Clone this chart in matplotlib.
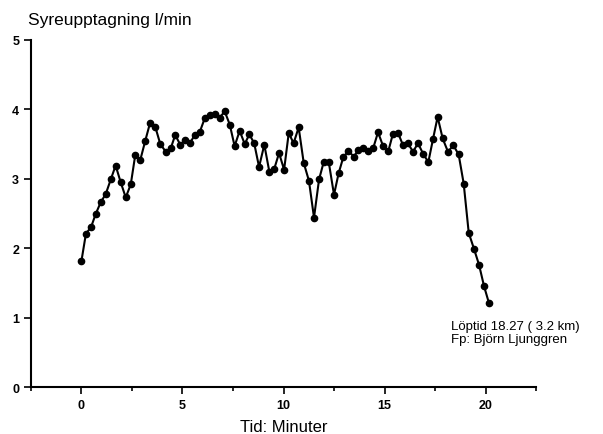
import matplotlib
matplotlib.use("Agg")
import matplotlib.pyplot as plt
from matplotlib.ticker import MultipleLocator

plt.rcParams['font.family'] = ['Liberation Sans', 'DejaVu Sans']

# Time in minutes
tid = [0.00, 0.22, 0.47, 0.70, 0.95, 1.20, 1.45, 1.69, 1.94, 2.19,
       2.44, 2.66, 2.91, 3.16, 3.39, 3.65, 3.90, 4.17, 4.42, 4.64,
       4.89, 5.14, 5.37, 5.60, 5.85, 6.10, 6.35, 6.59, 6.84, 7.09,
       7.34, 7.58, 7.83, 8.08, 8.31, 8.55, 8.79, 9.05, 9.30, 9.54,
       9.78, 10.03, 10.26, 10.50, 10.75, 11.00, 11.26, 11.51, 11.76, 11.99,
       12.24, 12.50, 12.73, 12.96, 13.21, 13.48, 13.70, 13.95, 14.20, 14.45,
       14.68, 14.93, 15.19, 15.42, 15.67, 15.92, 16.16, 16.41, 16.66, 16.91,
       17.17, 17.40, 17.63, 17.88, 18.14, 18.41, 18.67, 18.92, 19.17, 19.43,
       19.68, 19.93, 20.17]

# Oxygen uptake l/min
syre = [1.82, 2.21, 2.30, 2.49, 2.66, 2.78, 2.99, 3.19, 2.95, 2.73,
        2.92, 3.34, 3.27, 3.55, 3.80, 3.75, 3.50, 3.39, 3.44, 3.63,
        3.49, 3.56, 3.51, 3.63, 3.67, 3.87, 3.92, 3.93, 3.88, 3.97,
        3.78, 3.47, 3.69, 3.50, 3.64, 3.51, 3.17, 3.49, 3.10, 3.14,
        3.37, 3.13, 3.66, 3.51, 3.74, 3.23, 2.97, 2.44, 2.99, 3.24,
        3.24, 2.77, 3.08, 3.31, 3.40, 3.32, 3.41, 3.44, 3.40, 3.45,
        3.67, 3.47, 3.40, 3.65, 3.66, 3.48, 3.51, 3.39, 3.51, 3.36,
        3.24, 3.57, 3.89, 3.58, 3.39, 3.48, 3.35, 2.93, 2.22, 1.99,
        1.76, 1.45, 1.21]

xticks = [0, 5, 10, 15, 20]
yticks = [0, 1, 2, 3, 4, 5]

fig = plt.figure(figsize=(6.03, 4.35), dpi=100)
ax = fig.add_axes([0.0514, 0.108, 0.8375, 0.798])

ax.plot(tid, syre, color='black', linewidth=1.5, marker='o',
        markersize=4.5, markerfacecolor='black', markeredgecolor='black')

ax.set_xlim(-2.5, 22.5)
ax.set_ylim(0, 5)
ax.set_xticks(xticks)
ax.set_yticks(yticks)
ax.xaxis.set_minor_locator(MultipleLocator(2.5))

for s in ['top', 'right']:
    ax.spines[s].set_visible(False)
for s in ['left', 'bottom']:
    ax.spines[s].set_linewidth(1.5)

ax.tick_params(axis='both', which='major', direction='out', length=5,
               width=1.2, labelsize=9)
ax.tick_params(axis='x', which='minor', direction='out', length=3, width=1.2)
for lbl in ax.get_xticklabels() + ax.get_yticklabels():
    lbl.set_fontweight('bold')

ax.set_xlabel('Tid: Minuter', fontsize=12, labelpad=6)

fig.text(0.046, 0.953, 'Syreupptagning l/min', fontsize=12.5,
         ha='left', va='center')

fig.text(0.748, 0.233, 'Löptid 18.27 ( 3.2 km)\nFp: Björn Ljunggren',
         fontsize=9.5, ha='left', va='center', linespacing=1.1)

fig.savefig('out.png', dpi=100)
